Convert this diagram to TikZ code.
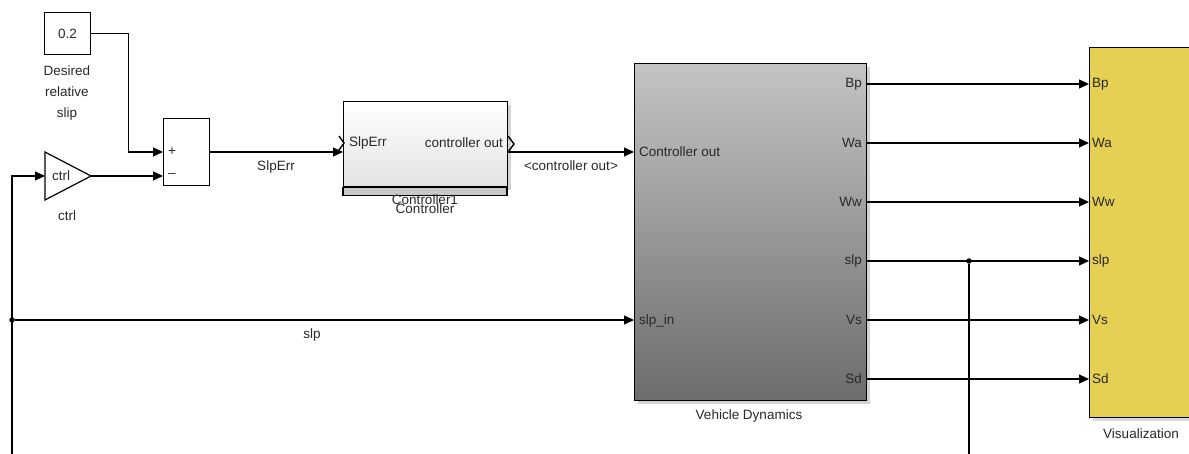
\documentclass[tikz,border=0pt]{standalone}
\usepackage{fontspec}
\setmainfont{Liberation Sans}
\usetikzlibrary{arrows.meta,calc,shadows}
\definecolor{ColVis}{RGB}{230,208,84}
\definecolor{ColVehTop}{RGB}{196,196,196}
\definecolor{ColVehBot}{RGB}{108,108,108}
\definecolor{ColTxt}{RGB}{40,40,40}

\begin{document}
\begin{tikzpicture}[
  x=1pt, y=-1pt,
  >={Triangle[length=10pt,width=9pt]},
  line cap=butt,
  line join=miter,
  every node/.style={font=\fontsize{13.5}{15}\selectfont, text=ColTxt, inner sep=0pt},
  blk/.style={draw, line width=1.2pt, anchor=north west, minimum width=#1},
  sig/.style={->, line width=1.1pt},
  wire/.style={line width=1.1pt},
  dot/.style={fill, circle, inner sep=0pt, minimum size=5.5pt}
]
  \useasboundingbox (0,0) rectangle (1189,454);

  % Constant, sum and gain
  \node[blk=46pt, minimum height=42pt] (const) at (44,12) {};
  \node at (const.center) {0.2};
  \node[align=center, font=\fontsize{13.5}{21}\selectfont] (constlbl) at (67,93) {Desired\\relative\\slip};
  \node[blk=46pt, minimum height=67pt, fill=white] (sum) at (163,118) {};
  \coordinate (sumP) at (163,152);
  \coordinate (sumM) at (163,176);
  \coordinate (sumOut) at (209,152);
  \node[anchor=west] (plus) at (168,152) {+};
  \node[anchor=west] (minus) at (168,176) {\textendash};
  \coordinate (gainIn) at (45,176);
  \coordinate (gainOut) at (91,176);
  \draw[line width=1.2pt] (45,152) -- (gainOut) -- (45,200) -- cycle;
  \node (gaintxt) at (61,176) {ctrl};
  \node (gainlbl) at (67,216) {ctrl};

  % Controller subsystem
  \node[blk=164pt, minimum height=85pt, top color=white, bottom color=black!11,
        drop shadow={shadow xshift=3pt, shadow yshift=-3pt, opacity=0.35}] (ctrl) at (343,101) {};
  \draw[line width=1.2pt, fill=black!22] (ctrl.south west) rectangle ++(164,8);
  \coordinate (ctrlIn) at (343,152);
  \coordinate (ctrlOut) at (508,152);
  \node[anchor=west] (ctrlin) at (349,143) {SlpErr};
  \node[anchor=east] (ctrlout) at (503,143) {controller out};
  \draw[line width=1.4pt] (339,136) -- (344,143) -- (339,150);
  \draw[line width=1.4pt] (508,136) -- (514,144) -- (508,152);
  \node (ctrlname1) at (425,200) {Controller1};
  \node (ctrlname2) at (425,209) {Controller};

  % Vehicle dynamics
  \node[blk=232pt, minimum height=337pt, top color=ColVehTop, bottom color=ColVehBot,
        drop shadow={shadow xshift=3pt, shadow yshift=-3pt, opacity=0.35}] (veh) at (634,63) {};
  \coordinate (vehC) at (634,152);
  \coordinate (vehS) at (634,320);
  \node[anchor=west] (vehcin) at (639,152) {Controller out};
  \node[anchor=west] (vehsin) at (639,321) {slp\_in};
  \node (vehlbl) at (749,416) {Vehicle Dynamics};

  % Visualization
  \node[blk=110pt, minimum height=370pt, fill=ColVis,
        drop shadow={shadow xshift=3pt, shadow yshift=-3pt, opacity=0.3}] (vis) at (1089,47) {};
  \node (vislbl) at (1141,434) {Visualization};

  % Outputs of vehicle dynamics to visualization
  \foreach \nm/\yy in {Bp/84, Wa/143, Ww/202, slp/261, Vs/320, Sd/379}{
    \coordinate (out\nm) at (866,\yy);
    \coordinate (in\nm) at (1089,\yy);
    \node[anchor=east] at (862,\yy) {\nm};
    \node[anchor=west] at (1092,\yy) {\nm};
    \draw[sig] (out\nm) -- (in\nm);
  }

  % Signal lines
  \draw[sig] (const.east) -- ++(37,0) |- (sumP);
  \draw[sig] (gainOut) -- (sumM);
  \draw[sig] (sumOut) -- node[below=8pt] (errlbl) {SlpErr} (ctrlIn);
  \draw[sig] (ctrlOut) -- node[below=8pt] (colbl) {<controller out>} (vehC);

  % Feedback of slip
  \coordinate (fbBot) at (12,454);
  \node[dot] (fbJ) at (12,320) {};
  \draw[sig] (fbBot) |- (gainIn);
  \draw[sig] (fbJ) -- node[pos=0.48, below=8pt] (slplbl) {slp} (vehS);
  \node[dot] (visJ) at (969,261) {};
  \coordinate (visBot) at (969,454);
  \draw[wire] (visJ) -- (visBot);
\end{tikzpicture}
\end{document}
